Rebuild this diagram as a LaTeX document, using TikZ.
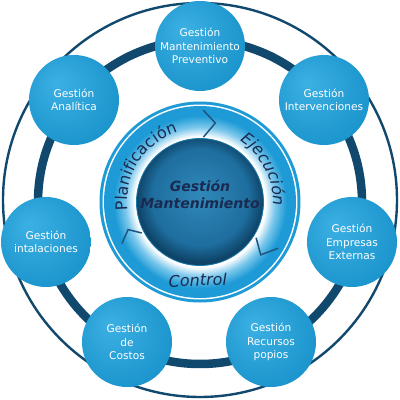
\documentclass[tikz,border=0pt]{standalone}
\usepackage{fontspec}
\setmainfont{DejaVu Sans}
\usetikzlibrary{decorations.text}
\definecolor{ringdark}{HTML}{11486D}
\definecolor{nlight}{HTML}{3CB0E3}
\definecolor{ndark}{HTML}{1590C9}
\definecolor{cblue}{HTML}{1E9BD6}
\definecolor{cmid}{HTML}{7CC8EC}
\definecolor{sphc}{HTML}{3089BA}
\definecolor{sphm}{HTML}{1E6E9F}
\definecolor{sphe}{HTML}{0E4468}
\definecolor{txtnavy}{HTML}{1A2A50}
\definecolor{chev}{HTML}{1F5580}
\pgfdeclareradialshading{nodeshade}{\pgfpoint{-10bp}{10bp}}{color(0bp)=(nlight); color(36bp)=(ndark); color(50bp)=(ndark)}
\pgfdeclareradialshading{ringshade}{\pgfpoint{0bp}{0bp}}{color(0bp)=(white); color(17bp)=(white); color(19.5bp)=(cmid); color(22.5bp)=(cblue); color(50bp)=(cblue)}
\pgfdeclareradialshading{sphereshade}{\pgfpoint{0bp}{3bp}}{color(0bp)=(sphc); color(19bp)=(sphm); color(25bp)=(sphe); color(50bp)=(sphe)}
\newcommand\arcfont{\fontsize{16}{18}\selectfont}
\begin{document}
\begin{tikzpicture}[x=1pt,y=1pt,
  bubble/.style={circle, minimum size=90pt, inner sep=0pt, shading=nodeshade, text=white, align=center, font=\fontsize{10.6}{13.3}\selectfont},
  chevline/.style={draw=chev, line width=1.5pt, line join=miter},
  coretext/.style={font=\fontsize{14}{17}\selectfont\bfseries\itshape, text=txtnavy, anchor=base, inner sep=0pt}]
\useasboundingbox[fill=white] (-200,-198) rectangle (200,202);
% rings
\draw[ringdark, line width=2.4pt] (0,2) circle[radius=197];
\draw[ringdark, line width=8.5pt] (0,0) circle[radius=162];
% outer bubbles
\node[bubble] (prev) at (0,156) {Gestión\\Mantenimiento\\Preventivo};
\node[bubble] (interv) at (124,102) {Gestión\\Intervenciones};
\node[bubble] (empr) at (152,-40) {Gestión\\Empresas\\Externas};
\node[bubble] (recur) at (71,-140) {Gestión\\Recursos\\popios};
\node[bubble] (cost) at (-73,-140) {Gestión\\de\\Costos};
\node[bubble] (inst) at (-154,-40) {Gestión\\intalaciones};
\node[bubble] (anal) at (-126,102) {Gestión\\Analítica};
% central disk
\fill[cblue] (0,0) circle[radius=100.5];
\fill[white] (0,0) circle[radius=97.5];
\shade[shading=ringshade] (0,0) circle[radius=96];
% chevrons
\draw[chevline] (88:92) -- (79:80.5) -- (87:65);
\draw[chevline] (-30.5:91) -- (-41:80.5) -- (-32.5:66.5);
\draw[chevline] (208:88.5) -- (201:77) -- (208:66);
% sphere
\shade[shading=sphereshade] (0,0) circle[radius=63.5];
\draw[cblue!60!sphe, line width=0.8pt] (0,0) circle[radius=63.5];
\node[coretext] (core1) at (0,10.5) {Gestión};
\node[coretext] (core2) at (0,-6) {Mantenimiento};
% arc labels
\path[decorate, decoration={text along path, text align=center, text color=txtnavy, text={|\arcfont|Planificación}}] (202:73) arc[start angle=202, end angle=92, radius=73];
\path[decorate, decoration={text along path, text align=center, text color=txtnavy, text={|\arcfont\itshape|Ejecución}}] (67:73) arc[start angle=67, end angle=-13, radius=73];
\node[font=\arcfont\itshape, text=txtnavy, anchor=base, rotate=2, inner sep=0pt] (ctl) at (-2,-84) {Control};
\end{tikzpicture}
\end{document}
